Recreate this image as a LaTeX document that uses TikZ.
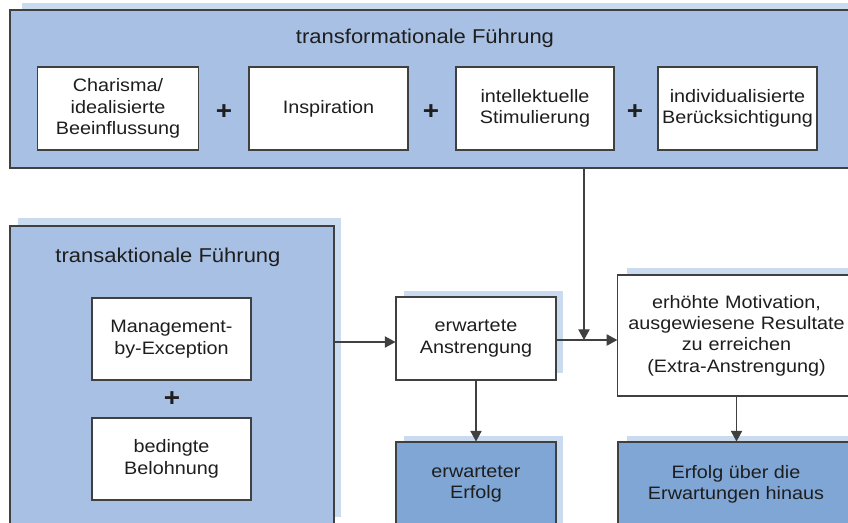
\documentclass[tikz,border=0pt]{standalone}
\usepackage{fontspec}
\setmainfont[FakeStretch=1.1]{Liberation Sans}
\usetikzlibrary{arrows.meta}
\definecolor{boxblue}{RGB}{167,192,227}
\definecolor{shadowblue}{RGB}{202,218,239}
\definecolor{darkblue}{RGB}{127,166,213}
\definecolor{edge}{RGB}{64,64,64}
\definecolor{txt}{RGB}{30,30,30}
\tikzset{
  px/.style={x=0.75pt,y=-0.75pt},
  frame/.style={draw=edge,line width=0.9pt,fill=boxblue,inner sep=0pt},
  shade/.style={fill=shadowblue,draw=none},
  whitebox/.style={draw=edge,line width=0.8pt,fill=white,inner sep=2pt,align=center,
     text=txt,font=\fontsize{13.5pt}{16pt}\selectfont},
  resultbox/.style={draw=edge,line width=0.8pt,fill=darkblue,inner sep=0pt},
  lbl/.style={text=txt,align=center,font=\fontsize{13.5pt}{16pt}\selectfont},
  title/.style={text=txt,font=\fontsize{15pt}{17pt}\selectfont},
  plus/.style={text=txt,font=\fontsize{19pt}{20pt}\selectfont\bfseries},
  conn/.style={draw=edge,line width=0.8pt,-{Triangle[length=8pt,width=8.5pt]}},
  line/.style={draw=edge,line width=0.8pt}
}
\begin{document}
\begin{tikzpicture}[px]
\useasboundingbox (0,0) rectangle (848,522);
\clip (0,0) rectangle (848,522);
\fill[white] (0,0) rectangle (848,522);

% transformationale Fuehrung
\fill[shade] (22,3) rectangle (870,160);
\node[frame,minimum width=850*0.75pt,minimum height=158*0.75pt] (trf) at (435,89) {};
\node[title] (trft) at (425,38) {transformationale Führung};
\node[whitebox,minimum width=160*0.75pt,minimum height=83*0.75pt,text width=155*0.75pt] (b1) at (118,108.5) {Charisma/\\idealisierte\\Beeinflussung};
\node[whitebox,minimum width=159*0.75pt,minimum height=83*0.75pt,text width=150*0.75pt] (b2) at (328.5,108.5) {Inspiration\\[1.2ex]};
\node[whitebox,minimum width=158*0.75pt,minimum height=83*0.75pt,text width=150*0.75pt] (b3) at (535,108.5) {intellektuelle\\Stimulierung};
\node[whitebox,minimum width=159*0.75pt,minimum height=83*0.75pt,text width=159*0.75pt,inner sep=0pt] (b4) at (737.5,108.5) {individualisierte\\Berücksichtigung};
\node[plus] (p1) at (224,112) {+};
\node[plus] (p2) at (431,112) {+};
\node[plus] (p3) at (635,112) {+};

% transaktionale Fuehrung
\fill[shade] (18,218) rectangle (341,517);
\node[frame,minimum width=324*0.75pt,minimum height=314*0.75pt] (trk) at (172,383) {};
\node[title] (trkt) at (168,257) {transaktionale Führung};
\node[whitebox,minimum width=159*0.75pt,minimum height=82*0.75pt,text width=150*0.75pt] (m1) at (171.5,339) {Management-\\by-Exception};
\node[plus] (p4) at (172,399) {+};
\node[whitebox,minimum width=159*0.75pt,minimum height=82*0.75pt,text width=150*0.75pt] (m2) at (171.5,459) {bedingte\\Belohnung};

% erwartete Anstrengung
\fill[shade] (404,291) rectangle (563,373);
\node[whitebox,minimum width=160*0.75pt,minimum height=83*0.75pt,text width=150*0.75pt] (ea) at (476,338.5) {erwartete\\Anstrengung};

% erhoehte Motivation
\fill[shade] (627,268) rectangle (870,389);
\node[whitebox,minimum width=237*0.75pt,minimum height=121*0.75pt,text width=232*0.75pt] (em) at (736.5,335.5) {erhöhte Motivation,\\ausgewiesene Resultate\\zu erreichen\\(Extra-Anstrengung)};

% erwarteter Erfolg
\fill[shade] (404,436) rectangle (563,530);
\node[resultbox,minimum width=160*0.75pt,minimum height=83*0.75pt] (ee) at (476,483.5) {};
\node[lbl] (eet) at (476,484) {erwarteter\\Erfolg};

% Erfolg ueber die Erwartungen hinaus
\fill[shade] (627,436) rectangle (870,530);
\node[resultbox,minimum width=237*0.75pt,minimum height=83*0.75pt] (eu) at (736.5,483.5) {};
\node[lbl] (eut) at (736,484) {Erfolg über die\\Erwartungen hinaus};

% connectors
\coordinate (j) at (584,340);
\draw[conn] (trk.east |- 0,342) -- (ea.west |- 0,342);
\draw[line] (ea.east |- j) -- (j);
\draw[conn] (j) -- (em.west |- j);
\draw[conn] (trf.south -| j) -- (j);
\draw[conn] (ea.south) -- (ee.north);
\draw[conn] (em.south) -- (eu.north);
\end{tikzpicture}
\end{document}
